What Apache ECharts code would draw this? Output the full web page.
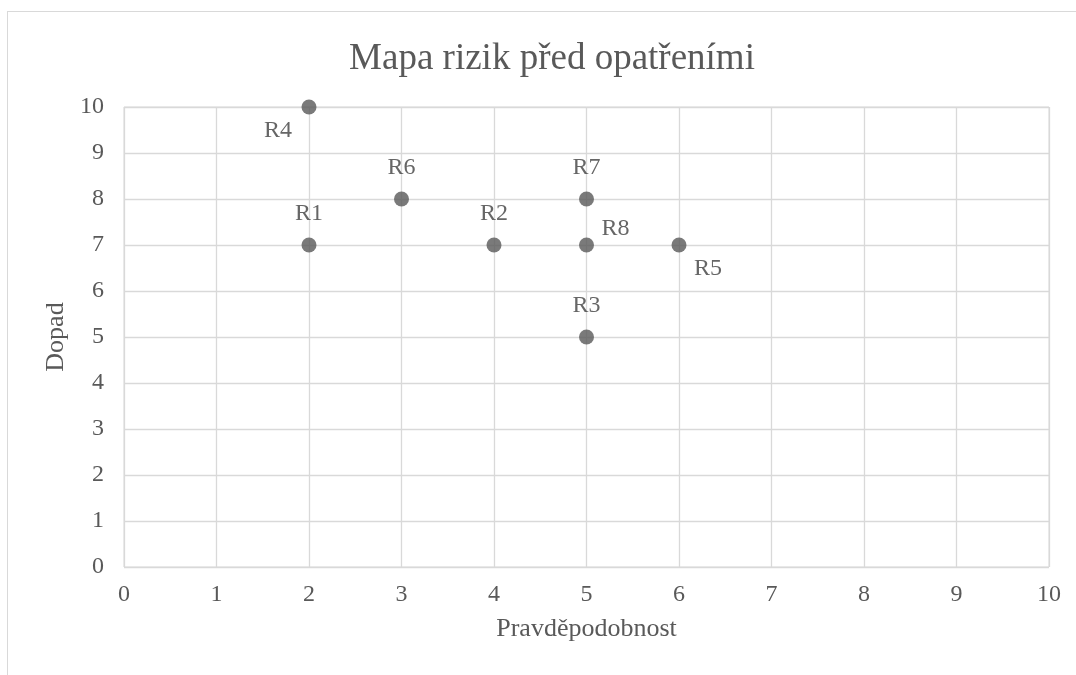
<!DOCTYPE html>
<html>
<head>
<meta charset="utf-8">
<script src="https://cdn.jsdelivr.net/npm/echarts@6/dist/echarts.min.js"></script>
<style>
  html, body { margin: 0; padding: 0; background: #fff; }
  #frame { position: absolute; left: 7px; top: 11px; width: 1069px; height: 664px;
           border-left: 1px solid #d9d9d9; border-top: 1px solid #d9d9d9; }
  #risk-map { position: absolute; left: 0; top: 0; width: 1076px; height: 675px; }
</style>
</head>
<body>
<div id="frame"></div>
<div id="risk-map"></div>
<script>
// risk map data
var riskNames = ['R1', 'R2', 'R3', 'R4', 'R5', 'R6', 'R7', 'R8'];
var probability = [2, 4, 5, 2, 6, 3, 5, 5];
var impact = [7, 7, 5, 10, 7, 8, 8, 7];

// where each label sits relative to its point
var labelOffset = {
  R1: [0, -31], R2: [0, -31], R3: [0, -31], R4: [-31, 24],
  R5: [29, 24], R6: [0, -31], R7: [0, -31], R8: [29, -16]
};

var fontName = '"Liberation Serif", "Times New Roman", serif';
var textColor = '#595959';
var lineColor = '#d9d9d9';

var dom = document.getElementById('risk-map');
var myChart = echarts.init(dom);
var option;

var points = riskNames.map(function (n, i) {
  return {
    name: n,
    value: [probability[i], impact[i]],
    label: { offset: labelOffset[n] }
  };
});

option = {
  animation: false,
  title: {
    text: 'Mapa rizik před opatřeními',
    left: 547,
    top: 36,
    textAlign: 'center',
    textStyle: { fontFamily: fontName, fontSize: 37, fontWeight: 'normal', color: textColor }
  },
  grid: {
    left: 124,
    right: 27,
    top: 107,
    bottom: 108,
    show: true,
    borderColor: lineColor,
    borderWidth: 1
  },
  xAxis: {
    type: 'value',
    min: 0,
    max: 10,
    interval: 1,
    name: 'Pravděpodobnost',
    nameLocation: 'middle',
    nameGap: 49,
    nameTextStyle: { fontFamily: fontName, fontSize: 26, color: textColor },
    axisLine: { show: false },
    axisTick: { show: false },
    axisLabel: { fontFamily: fontName, fontSize: 24, color: textColor, margin: 16 },
    splitLine: { lineStyle: { color: lineColor, width: 1.3 } }
  },
  yAxis: {
    type: 'value',
    min: 0,
    max: 10,
    interval: 1,
    name: 'Dopad',
    nameLocation: 'middle',
    nameGap: 51,
    nameTextStyle: { fontFamily: fontName, fontSize: 26, color: textColor },
    axisLine: { show: false },
    axisTick: { show: false },
    axisLabel: { fontFamily: fontName, fontSize: 24, color: textColor, margin: 20 },
    splitLine: { lineStyle: { color: lineColor, width: 1.3 } }
  },
  series: [
    {
      type: 'scatter',
      symbolSize: 15,
      itemStyle: { color: '#595959' },
      label: {
        show: true,
        position: 'inside',
        formatter: '{b}',
        fontFamily: fontName,
        fontSize: 24,
        color: '#404040'
      },
      data: points
    }
  ]
};

if (option && typeof option === 'object') {
  myChart.setOption(option);
}
</script>
</body>
</html>
